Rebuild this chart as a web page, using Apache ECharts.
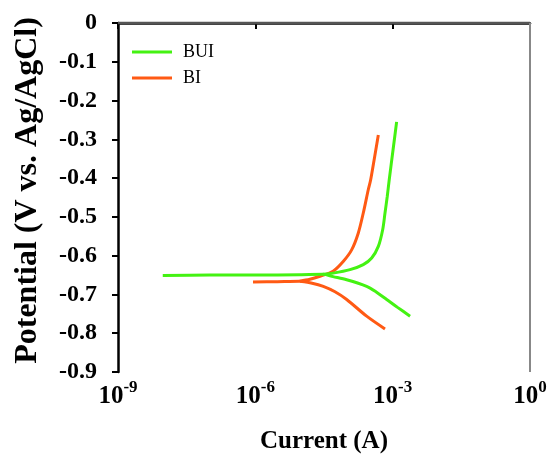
<!DOCTYPE html>
<html>
<head>
<meta charset="utf-8">
<script src="https://cdn.jsdelivr.net/npm/echarts@6/dist/echarts.min.js"></script>
<style>html,body{margin:0;padding:0;background:#fff}#c{width:551px;height:457px}</style>
</head>
<body>
<div id="c"></div>
<script>
// Tafel data: [current (A), potential (V vs Ag/AgCl)]
const seriesNames = ['BUI', 'BI'];
const buiCathodic = [
  [9.5e-9, -0.651], [1e-7, -0.650], [1e-6, -0.650], [9.3e-6, -0.649], [3.0e-5, -0.648],
  [5.0e-5, -0.654], [9.9e-5, -0.662], [2.7e-4, -0.679], [4.3e-4, -0.693],
  [7.4e-4, -0.713], [1.3e-3, -0.734], [2.4e-3, -0.756]
];
const buiAnodic = [
  [3.0e-5, -0.648], [5.0e-5, -0.645], [1.17e-4, -0.636], [2.28e-4, -0.623], [3.48e-4, -0.606],
  [4.86e-4, -0.576], [6.05e-4, -0.533], [6.8e-4, -0.490], [7.6e-4, -0.448], [8.4e-4, -0.405],
  [1.02e-3, -0.327], [1.22e-3, -0.255]
];
const biCathodic = [
  [8.9e-7, -0.668], [3e-6, -0.667], [9.3e-6, -0.666], [1.74e-5, -0.671], [3.05e-5, -0.679],
  [5.5e-5, -0.693], [9.9e-5, -0.713], [2.7e-4, -0.756], [6.8e-4, -0.789]
];
const biAnodic = [
  [9.3e-6, -0.666], [1.56e-5, -0.661], [2.58e-5, -0.653], [5.0e-5, -0.640], [8.3e-5, -0.615],
  [1.27e-4, -0.585], [1.77e-4, -0.542], [2.28e-4, -0.490], [2.93e-4, -0.430], [3.3e-4, -0.405],
  [4.0e-4, -0.348], [4.86e-4, -0.289]
];
const yTicks = { min: -0.9, max: 0, interval: 0.1 };
const xTicks = { min: 1e-9, max: 1, logInterval: 3 };

const green = '#44f212';
const orange = '#ff5a14';
const serif = '"Liberation Serif", "DejaVu Serif", serif';

const chart = echarts.init(document.getElementById('c'));
function line(name, data, color, withLegend) {
  return {
    name: withLegend ? name : name + '_',
    type: 'line', data: data, smooth: 0.3, symbol: 'none',
    lineStyle: { color: color, width: 3 }, itemStyle: { color: color },
    z: name === 'BUI' ? 3 : 2
  };
}
chart.setOption({
  animation: false,
  grid: { left: 118, right: 21, top: 23, bottom: 85, outerBoundsMode: 'none', containLabel: false },
  legend: {
    data: seriesNames, orient: 'vertical', left: 127, top: 38,
    icon: 'rect', itemWidth: 40, itemHeight: 3, itemGap: 8,
    textStyle: { fontFamily: serif, fontSize: 18, color: '#000', padding: [0, 0, 0, 6] }
  },
  xAxis: {
    type: 'log', logBase: 10, min: xTicks.min, max: xTicks.max, interval: xTicks.logInterval,
    name: 'Current (A)', nameLocation: 'middle', nameGap: 57,
    nameTextStyle: { fontFamily: serif, fontSize: 25, fontWeight: 'bold', color: '#000' },
    axisLine: { lineStyle: { color: '#000', width: 2.5 } },
    axisTick: { inside: false, length: 6, lineStyle: { color: '#000', width: 2 } },
    splitLine: { show: false }, minorTick: { show: false },
    axisLabel: {
      margin: 2,
      formatter: function (v) { return '{b|10}{s|' + Math.round(Math.log10(v)) + '}'; },
      rich: {
        b: { fontFamily: serif, fontSize: 25, fontWeight: 'bold', color: '#000', lineHeight: 35, verticalAlign: 'bottom' },
        s: { fontFamily: serif, fontSize: 17, fontWeight: 'bold', color: '#000', verticalAlign: 'top', padding: [5, 0, 0, 0] }
      }
    }
  },
  yAxis: {
    type: 'value', min: yTicks.min, max: yTicks.max, interval: yTicks.interval,
    name: 'Potential (V vs. Ag/AgCl)', nameLocation: 'middle', nameGap: 74, nameRotate: 90,
    nameTextStyle: { fontFamily: serif, fontSize: 32, fontWeight: 'bold', color: '#000', padding: [0, 0, 0, 14] },
    axisLine: { show: true, lineStyle: { color: '#000', width: 2.5 } },
    axisTick: { show: true, length: 6, lineStyle: { color: '#000', width: 2 } },
    splitLine: { show: false },
    axisLabel: {
      margin: 21, fontFamily: serif, fontSize: 24, fontWeight: 'bold', color: '#000',
      formatter: function (v) { return Math.abs(v) < 1e-9 ? '0' : v.toFixed(1); }
    }
  },
  graphic: [
    { type: 'line', shape: { x1: 118, y1: 23, x2: 530, y2: 23 }, style: { stroke: '#555', lineWidth: 2.5 }, z: 10 },
    { type: 'line', shape: { x1: 530, y1: 23, x2: 530, y2: 372 }, style: { stroke: '#888', lineWidth: 2 }, z: 10 }
  ],
  series: [
    line('BUI', buiCathodic, green, true),
    line('BUI', buiAnodic, green, false),
    line('BI', biCathodic, orange, true),
    line('BI', biAnodic, orange, false)
  ]
});
</script>
</body>
</html>
